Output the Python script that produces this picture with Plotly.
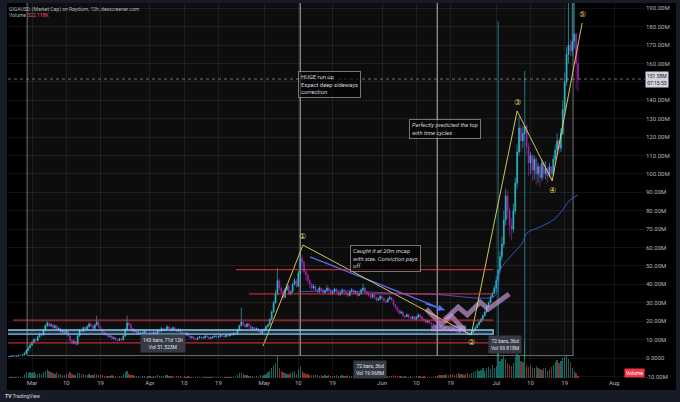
import pandas as pd
import plotly.graph_objects as go

# ---- data (market cap in M, 12h candles from 2024-02-24) ----
close_feb = [0.8, 1.0, 1.2, 0.9, 1.1, 1.4, 1.3, 1.6, 2.5, 4.0, 5.5, 7.0]
high_feb = [1.1, 1.3, 1.5, 1.3, 1.4, 1.7, 1.6, 2.0, 3.2, 4.8, 6.3, 7.8]
low_feb = [0.5, 0.7, 0.8, 0.7, 0.8, 1.0, 1.1, 1.2, 1.5, 2.3, 3.8, 5.2]
vol_feb = [0.3, 0.2, 0.3, 0.2, 0.2, 0.3, 0.3, 0.4, 1.2, 1.6, 1.4, 1.5]

close_mar = [8.5, 10.0, 9.5, 11.5, 13.0, 12.5, 15.0, 17.5, 19.0, 17.5, 18.0, 16.5, 17.5, 15.5, 16.0, 14.0, 15.0, 13.5, 14.5, 12.0,
             9.5, 8.0, 9.0, 7.5, 12.0, 15.0, 14.5, 16.5, 15.5, 17.0, 18.5, 17.5, 16.0, 18.0, 19.5, 17.0, 15.5, 14.0, 13.0, 12.5,
             11.5, 12.0, 10.5, 11.0, 10.0, 9.5, 10.5, 9.8, 12.0, 15.5, 19.0, 18.0, 16.0, 14.5, 15.0, 13.5, 14.0, 13.0, 13.5, 14.5, 13.0, 12.5]
high_mar = [9.2, 10.8, 10.6, 12.2, 13.8, 13.6, 15.8, 18.3, 20.0, 19.2, 18.8, 18.3, 18.2, 17.8, 16.8, 16.4, 15.7, 15.2, 15.3, 14.9,
            12.4, 9.9, 9.8, 9.4, 12.7, 15.6, 15.5, 17.2, 17.0, 17.8, 19.4, 18.9, 17.8, 18.6, 23.0, 19.8, 17.4, 15.8, 14.3, 13.3,
            12.8, 12.6, 12.3, 11.6, 11.3, 10.4, 11.0, 10.9, 12.6, 16.2, 23.0, 19.6, 18.4, 16.5, 15.6, 15.4, 14.7, 14.3, 14.1, 15.2, 15.0, 13.6]
low_mar = [6.5, 8.0, 8.8, 9.0, 11.0, 11.8, 12.0, 14.5, 16.8, 16.9, 16.9, 15.9, 15.8, 14.9, 14.8, 13.2, 13.5, 12.8, 12.9, 11.4,
           8.8, 7.2, 7.5, 6.9, 7.2, 11.5, 14.0, 14.0, 15.0, 15.2, 16.5, 16.8, 15.2, 15.6, 17.5, 16.2, 14.8, 13.2, 12.4, 11.8,
           10.9, 11.2, 9.8, 10.2, 9.2, 8.9, 9.2, 9.0, 9.5, 11.5, 15.0, 17.2, 15.2, 13.8, 13.9, 12.8, 12.7, 12.4, 12.7, 13.2, 12.2, 11.8]
vol_mar = [1.3, 1.5, 1.0, 1.2, 1.4, 1.1, 1.6, 2.0, 2.4, 1.8, 1.6, 1.3, 1.2, 1.5, 1.0, 1.1, 0.8, 0.9, 1.2, 1.0, 1.5, 1.1, 0.8, 0.9,
           1.3, 1.4, 1.0, 1.1, 0.8, 0.9, 1.0, 0.7, 0.8, 1.0, 1.2, 0.9, 0.8, 0.7, 0.6, 0.5, 0.6, 0.5, 0.7, 0.5, 0.6, 0.4, 0.5, 0.6,
           1.0, 1.6, 1.9, 1.2, 0.9, 0.7, 0.6, 0.5, 0.5, 0.4, 0.6, 0.5, 0.4, 0.5]

close_apr = [13.5, 12.5, 14.0, 13.0, 15.0, 14.5, 16.0, 15.0, 15.5, 17.0, 16.0, 15.0, 16.5, 15.5, 14.5, 15.5, 14.0, 13.0, 12.5, 13.5,
             12.0, 11.0, 11.5, 10.5, 10.0, 11.0, 11.5, 10.8, 11.0, 12.0, 11.5, 10.5, 11.0, 11.5, 12.0, 11.2, 11.5, 12.5, 12.0, 11.5,
             12.5, 12.0, 13.0, 12.5, 13.5, 13.0, 15.0, 17.5, 19.5, 18.0, 17.0, 18.5, 17.5, 16.0, 16.5, 15.5, 16.0, 14.5, 13.5, 15.0]
high_apr = [14.2, 14.0, 14.8, 14.3, 15.7, 15.5, 16.9, 16.4, 16.0, 18.0, 17.5, 16.4, 17.2, 16.9, 15.9, 16.2, 15.9, 14.3, 13.4, 14.1,
            13.9, 12.3, 12.1, 11.9, 10.9, 11.6, 12.1, 11.8, 11.6, 12.6, 12.5, 11.8, 11.7, 12.1, 12.7, 12.4, 12.2, 13.1, 13.0, 12.3,
            13.1, 12.8, 13.6, 13.4, 14.1, 13.8, 15.8, 18.3, 27.5, 20.0, 18.6, 19.2, 19.0, 17.9, 17.0, 16.8, 16.7, 16.3, 15.2, 15.7]
low_apr = [12.0, 11.9, 12.2, 12.4, 12.8, 14.0, 14.3, 14.6, 14.7, 15.0, 15.2, 14.5, 14.7, 14.9, 14.0, 14.2, 13.4, 12.4, 12.0, 12.1,
           11.6, 10.5, 10.5, 10.0, 9.5, 9.8, 10.6, 10.2, 10.5, 10.6, 10.8, 10.0, 10.3, 10.9, 11.0, 10.7, 10.9, 11.1, 11.5, 11.0,
           11.2, 11.5, 11.7, 12.0, 12.4, 12.4, 12.7, 14.6, 17.2, 17.3, 16.5, 16.6, 15.8, 15.4, 15.3, 14.9, 14.9, 13.9, 12.5, 13.0]
vol_apr = [0.5, 0.4, 0.5, 0.6, 0.7, 0.5, 0.6, 0.5, 0.8, 0.7, 0.5, 0.6, 0.5, 0.4, 0.6, 0.5, 0.6, 0.4, 0.5, 0.4, 0.5, 0.3, 0.4, 0.3,
           0.4, 0.3, 0.4, 0.3, 0.3, 0.4, 0.3, 0.3, 0.3, 0.4, 0.3, 0.3, 0.4, 0.3, 0.3, 0.2, 0.3, 0.3, 0.4, 0.3, 0.3, 0.4, 0.9, 1.3,
           1.4, 1.0, 0.8, 0.7, 0.6, 0.5, 0.5, 0.4, 0.5, 0.4, 0.7, 0.6]

close_may = [15.5, 17.0, 18.0, 21.0, 25.0, 30.0, 35.0, 42.0, 38.0, 36.0, 33.0, 37.0, 39.0, 35.0, 36.0, 40.0, 42.0, 39.0, 46.0, 54.0,
             52.0, 47.0, 45.0, 42.0, 40.0, 38.0, 39.0, 37.0, 36.0, 38.0, 37.0, 35.5, 36.5, 38.0, 37.0, 35.0, 36.0, 37.5, 36.0, 34.5,
             35.5, 37.0, 36.0, 35.0, 34.0, 36.0, 37.0, 35.5, 36.0, 34.0, 35.0, 37.0, 38.0, 36.0, 35.0, 34.0, 33.0, 34.5, 33.0, 31.5, 32.0, 33.5]
high_may = [16.3, 17.8, 18.8, 21.9, 26.0, 31.0, 37.0, 49.0, 43.0, 39.0, 36.8, 38.0, 40.5, 39.8, 36.8, 41.0, 43.5, 43.0, 47.5, 57.0,
            56.0, 52.8, 48.0, 45.6, 43.0, 40.8, 40.2, 39.5, 37.6, 39.2, 38.6, 37.8, 37.2, 39.5, 38.8, 37.6, 36.8, 38.2, 38.0, 36.5,
            36.0, 37.8, 37.6, 36.4, 35.6, 36.8, 38.0, 37.4, 36.8, 36.4, 35.6, 37.8, 40.5, 38.6, 36.5, 35.6, 34.4, 35.2, 35.0, 33.4, 32.8, 34.2]
low_may = [14.2, 15.0, 16.6, 17.6, 20.5, 24.6, 29.5, 34.0, 37.0, 35.2, 31.5, 32.6, 36.2, 34.0, 34.0, 35.5, 39.5, 38.2, 38.5, 45.5,
           47.5, 45.5, 42.0, 40.5, 37.8, 36.8, 37.3, 35.8, 34.8, 35.3, 35.9, 34.5, 35.0, 35.8, 34.7, 34.0, 34.5, 35.5, 35.0, 33.6,
           33.8, 35.0, 34.5, 34.0, 33.2, 33.4, 35.5, 34.5, 34.8, 33.0, 33.8, 34.4, 36.2, 35.3, 34.2, 33.1, 32.0, 32.3, 32.1, 30.6, 30.9, 31.4]
vol_may = [0.9, 1.2, 1.5, 2.0, 2.6, 3.5, 4.0, 5.9, 2.6, 1.9, 1.6, 1.4, 1.2, 1.1, 1.3, 1.5, 1.8, 1.2, 2.5, 3.2,
           2.0, 1.4, 1.2, 1.0, 0.9, 0.8, 0.8, 0.7, 0.9, 0.6, 0.7, 0.6, 0.8, 0.6, 0.7, 0.5, 0.6, 0.5, 0.7, 0.5,
           0.6, 0.7, 0.5, 0.6, 0.8, 0.6, 0.5, 0.6, 0.5, 0.6, 0.7, 0.5, 0.9, 0.6, 0.5, 0.6, 0.5, 0.6, 0.4, 0.5, 0.5, 0.4]

close_jun = [32.5, 31.0, 30.5, 32.0, 33.0, 31.5, 29.0, 27.5, 26.0, 24.5, 25.0, 23.0, 22.5, 23.5, 22.0, 21.5, 22.5, 21.0, 22.0, 23.5,
             22.5, 21.0, 20.5, 19.5, 20.0, 19.0, 18.5, 18.0, 17.0, 18.5, 17.5, 16.5, 16.0, 17.0, 16.5, 15.5, 15.0, 16.0, 15.5, 14.5,
             14.0, 15.5, 15.0, 14.5, 14.0, 13.5, 13.0, 14.0, 15.0, 16.5, 18.0, 19.5, 21.0, 23.0, 25.0, 28.0, 30.0, 33.0, 35.0, 38.0]
high_jun = [33.8, 32.8, 31.4, 32.8, 33.8, 33.2, 31.8, 29.3, 27.8, 26.2, 25.9, 25.2, 23.3, 24.3, 23.8, 22.4, 22.9, 22.7, 22.8, 24.2,
            24.0, 22.9, 21.7, 20.9, 20.6, 20.3, 19.3, 18.9, 18.3, 19.2, 18.9, 17.7, 16.9, 17.6, 17.2, 16.9, 15.9, 16.6, 16.3, 15.9,
            14.9, 16.1, 15.9, 15.3, 14.9, 14.3, 13.9, 14.6, 15.6, 17.2, 18.6, 20.3, 21.8, 23.8, 25.9, 28.9, 30.8, 34.0, 36.0, 39.5]
low_jun = [31.4, 30.2, 29.6, 30.1, 31.5, 30.8, 28.2, 26.6, 24.9, 23.6, 23.9, 22.3, 21.6, 22.1, 21.3, 20.7, 20.9, 20.4, 20.6, 21.6,
           20.8, 20.3, 19.7, 18.8, 18.9, 18.3, 17.6, 17.2, 16.2, 16.6, 16.3, 15.8, 15.3, 15.6, 15.2, 14.8, 14.3, 14.6, 14.2, 13.9,
           13.4, 13.7, 14.2, 13.9, 13.2, 12.8, 12.3, 12.7, 13.8, 14.8, 16.2, 17.7, 19.2, 20.8, 22.6, 24.5, 27.2, 29.8, 32.5, 34.8]
vol_jun = [0.4, 0.5, 0.4, 0.5, 0.5, 0.6, 0.7, 0.6, 0.6, 0.5, 0.6, 0.4, 0.5, 0.4, 0.4, 0.5, 0.4, 0.3, 0.5, 0.6, 0.5, 0.4, 0.5, 0.4,
           0.4, 0.3, 0.4, 0.3, 0.5, 0.6, 0.8, 0.7, 0.9, 0.8, 1.0, 0.9, 1.2, 1.0, 0.9, 1.1, 1.3, 1.0, 1.2, 0.9, 1.1, 1.4, 1.0, 1.3,
           1.6, 2.0, 2.4, 1.8, 2.2, 2.6, 2.0, 2.8, 3.0, 2.4, 3.4, 2.6]

close_jul = [42.0, 48.0, 55.0, 62.0, 75.0, 88.0, 80.0, 72.0, 70.0, 80.0, 95.0, 112.0, 125.0, 118.0, 122.0, 126.0, 115.0, 106.0, 110.0, 102.0,
             108.0, 100.0, 104.0, 98.0, 106.0, 100.0, 103.0, 99.0, 104.0, 100.0, 108.0, 113.0, 118.0, 114.0, 122.0, 135.0, 150.0, 165.0, 170.0, 167.0,
             172.0, 176.0, 160.0, 151.58]
high_jul = [44.5, 183.0, 58.0, 66.0, 80.0, 92.0, 91.0, 82.0, 76.0, 84.0, 98.0, 116.0, 131.0, 127.0, 126.0, 156.0, 127.0, 117.0, 112.0, 111.0,
            110.0, 109.0, 106.0, 105.0, 108.0, 107.0, 107.0, 104.0, 106.0, 104.0, 110.0, 116.0, 122.0, 119.0, 125.0, 140.0, 155.0, 169.0, 200.0, 173.0,
            198.0, 195.0, 177.0, 171.0]
low_jul = [36.0, 0.5, 46.0, 53.0, 60.0, 72.0, 76.0, 66.0, 64.0, 68.0, 78.0, 92.0, 110.0, 112.0, 114.0, 0.3, 110.0, 99.0, 100.0, 96.0,
           97.0, 94.0, 95.0, 93.0, 96.0, 97.0, 97.0, 95.0, 98.0, 97.0, 99.0, 106.0, 110.0, 111.0, 112.0, 121.0, 132.0, 148.0, 160.0, 164.0,
           164.0, 168.0, 146.0, 145.0]
vol_jul = [3.2, 7.2, 4.5, 5.0, 6.0, 5.2, 4.0, 3.5, 3.2, 4.0, 5.5, 6.5, 6.0, 4.5, 4.2, 9.8, 3.6, 3.0, 3.2, 2.6,
           2.6, 3.2, 2.8, 2.4, 2.2, 2.6, 2.8, 2.0, 2.4, 3.0, 3.6, 4.2, 4.8, 4.0, 4.6, 5.4, 5.6, 6.2, 5.0, 4.4,
           2.6, 2.0, 1.4, 0.52]

# moving average line
ma_x = ["2024-05-10", "2024-05-20", "2024-06-01", "2024-06-15", "2024-06-30 12:00", "2024-07-01 12:00", "2024-07-02",
        "2024-07-04 16:00", "2024-07-07 20:00", "2024-07-09 02:00", "2024-07-12 12:00", "2024-07-16", "2024-07-17 20:00",
        "2024-07-20 10:00", "2024-07-22 12:00"]
ma_y = [36.0, 36.5, 35.5, 34.5, 33.5, 38.0, 47.8, 54.9, 62.5, 67.9, 71.2, 75.0, 78.8, 85.9, 88.6]

# elliott wave drawing
wave_x = ["2024-04-30 17:00", "2024-05-11 05:00", "2024-06-24 10:00", "2024-07-06 12:00", "2024-07-15 17:00", "2024-07-23 14:00"]
wave_y = [6.5, 61.4, 12.5, 134.2, 96.2, 182.0]
wave_labels = ["\u2460", "\u2461", "\u2462", "\u2463", "\u2464"]
wave_label_x = ["2024-05-11 05:00", "2024-06-24 10:00", "2024-07-06 12:00", "2024-07-15 17:00", "2024-07-23 19:00"]
wave_label_y = [65.8, 8.2, 138.6, 90.8, 186.4]

trend_x = ["2024-05-13 02:00", "2024-06-17 10:00"]
trend_y = [54.9, 26.1]

zig1_x = ["2024-06-17 10:00", "2024-06-21", "2024-06-23 10:00", "2024-06-26 19:00", "2024-06-28 22:00", "2024-07-04 10:00"]
zig1_y = [20.7, 27.7, 23.4, 30.4, 26.6, 34.8]
zig2_x = ["2024-06-12 14:00", "2024-06-16 14:00", "2024-06-19 05:00", "2024-06-22 14:00"]
zig2_y = [26.6, 18.5, 22.8, 15.2]

levels = [48.0, 34.8, 20.6, 8.2]
level_start = ["2024-04-23 14:00", "2024-04-27", "2024-02-25", "2024-02-23"]
level_end = "2024-06-30 05:00"

ranges = [("2024-02-28 17:00", "2024-05-10 12:00"), ("2024-05-10 12:00", "2024-06-15 12:00"), ("2024-06-15 12:00", "2024-07-21 05:00")]
range_labels = ["143 bars, 71d 12h<br>Vol 51.523M", "72 bars, 36d<br>Vol 19.968M", "72 bars, 36d<br>Vol 99.818M"]
range_label_x = ["2024-04-04 10:00", "2024-05-28 22:00", "2024-07-03 07:00"]
range_label_y = [7.9, -6.3, 7.6]

tick_dates = ["2024-03-01", "2024-03-10", "2024-03-19", "2024-04-01", "2024-04-10", "2024-04-19", "2024-05-01", "2024-05-10",
              "2024-05-19", "2024-06-01", "2024-06-10", "2024-06-19", "2024-07-01", "2024-07-10", "2024-07-19", "2024-08-01"]
tick_text = ["Mar", "10", "19", "Apr", "10", "19", "May", "10", "19", "Jun", "10", "19", "Jul", "10", "19", "Aug"]
price_ticks = list(range(-10, 200, 10))
# 150 is hidden behind the last-price label
price_text = ["0.0000" if v == 0 else ("" if v == 150 else f"{v:.2f}M") for v in price_ticks]

# ---- build ----
close = close_feb + close_mar + close_apr + close_may + close_jun + close_jul
high = high_feb + high_mar + high_apr + high_may + high_jun + high_jul
low = low_feb + low_mar + low_apr + low_may + low_jun + low_jul
vol = vol_feb + vol_mar + vol_apr + vol_may + vol_jun + vol_jul
opn = [0.6] + close[:-1]
high = [max(h, o, c) for h, o, c in zip(high, opn, close)]
low = [min(l, o, c) for l, o, c in zip(low, opn, close)]
dates = pd.date_range("2024-02-24", periods=len(close), freq="12h")

UP = "#2ec4d6"
DOWN = "#a12ab4"
FONT = "Roboto"
AXC = "#b2b5be"
GRID = "rgba(255,255,255,0.07)"

fig = go.Figure()
vcol = ["rgba(38,166,154,0.6)" if c >= o else "rgba(239,83,80,0.55)" for o, c in zip(opn, close)]
fig.add_trace(go.Bar(x=dates, y=vol, marker=dict(color=vcol, line=dict(width=0)), width=12 * 3600 * 1000 * 0.7,
                     yaxis="y2", hoverinfo="skip"))
fig.add_trace(go.Candlestick(x=dates, open=opn, high=high, low=low, close=close, whiskerwidth=0,
                             increasing=dict(line=dict(color=UP, width=0.6), fillcolor=UP),
                             decreasing=dict(line=dict(color=DOWN, width=0.6), fillcolor=DOWN)))
fig.add_trace(go.Scatter(x=ma_x, y=ma_y, mode="lines", line=dict(color="rgba(50,100,230,0.85)", width=1, shape="spline")))
fig.add_trace(go.Scatter(x=zig2_x, y=zig2_y, mode="lines", line=dict(color="rgba(206,160,225,0.65)", width=5)))
fig.add_trace(go.Scatter(x=zig1_x, y=zig1_y, mode="lines", line=dict(color="rgba(206,160,225,0.65)", width=5)))
fig.add_trace(go.Scatter(x=trend_x, y=trend_y, mode="lines", line=dict(color="#4c6ef5", width=1.3)))
fig.add_trace(go.Scatter(x=wave_x, y=wave_y, mode="lines", line=dict(color="rgba(232,214,96,0.9)", width=1)))

shapes = []
# date range boxes
for x0, x1 in ranges:
    shapes.append(dict(type="rect", x0=x0, x1=x1, y0=1.3, y1=215, xref="x", yref="y", layer="below",
                       fillcolor="rgba(255,255,255,0.05)", line=dict(color="rgba(200,200,200,0.55)", width=1)))
# support / resistance levels
for lv, st in zip(levels, level_start):
    shapes.append(dict(type="line", x0=st, x1=level_end, y0=lv, y1=lv, xref="x", yref="y", layer="above",
                       line=dict(color="rgba(242,54,69,0.75)", width=1.2)))
# blue band
shapes.append(dict(type="rect", x0="2024-02-22", x1=level_end, y0=13.0, y1=15.2, xref="x", yref="y", layer="above",
                   fillcolor="rgba(120,190,255,0.22)", line=dict(color="#86c9ee", width=1.3)))
# lavender band
shapes.append(dict(type="rect", x0="2024-06-13 22:00", x1="2024-06-23 02:00", y0=14.6, y1=17.6, xref="x", yref="y",
                   layer="above", fillcolor="rgba(206,160,225,0.55)", line=dict(width=0)))
# current price line
shapes.append(dict(type="line", x0=0, x1=1, y0=151.58, y1=151.58, xref="paper", yref="y", layer="above",
                   line=dict(color="rgba(180,180,180,0.6)", width=1, dash="dot")))
# dark frame around the chart
NAVY = "#171b26"
for x0, x1, y0, y1 in [(-0.013, 1.056, -0.07, -0.032), (-0.013, -0.0016, -0.07, 1.01),
                       (-0.013, 1.056, 1.0, 1.01), (1.0487, 1.056, -0.07, 1.01)]:
    shapes.append(dict(type="rect", x0=x0, x1=x1, y0=y0, y1=y1, xref="paper", yref="paper", layer="below",
                       fillcolor=NAVY, line=dict(width=0)))

ann = []
for t, x, y in zip(wave_labels, wave_label_x, wave_label_y):
    ann.append(dict(x=x, y=y, text=t, showarrow=False, font=dict(family="DejaVu Sans", size=8, color="#e8d660")))
for t, x, y in zip(range_labels, range_label_x, range_label_y):
    ann.append(dict(x=x, y=y, text=t, showarrow=False, align="center", bgcolor="#363a45", borderpad=2,
                    font=dict(family=FONT, size=5, color="#e0e3eb")))
box = dict(showarrow=False, align="left", xanchor="left", yanchor="top", bgcolor="rgba(0,0,0,0.6)",
           bordercolor="rgba(190,190,190,0.6)", borderwidth=1, borderpad=2)
ann.append(dict(x="2024-05-09 22:00", y=156.0, text="HUGE run up<br>Expect deep sideways<br>correction",
                font=dict(family=FONT, size=5.8, color="#d1d4dc"), **box))
ann.append(dict(x="2024-06-08 05:00", y=129.9, text="<i>Perfectly predicted the top<br>with time cycles</i>",
                font=dict(family=FONT, size=5.8, color="#d1d4dc"), **box))
ann.append(dict(x="2024-05-23 14:00", y=61.4, text="<i>Caught it at 20m mcap<br>with size. Conviction pays<br>off</i>",
                font=dict(family=FONT, size=5.8, color="#d1d4dc"), **box))
# arrow head on blue trend line
ann.append(dict(x=trend_x[1], y=trend_y[1], ax="2024-06-12", ay=29.8, axref="x", ayref="y", text="",
                showarrow=True, arrowhead=2, arrowsize=1, arrowwidth=1.3, arrowcolor="#4c6ef5"))
# header texts
ann.append(dict(x=-0.0016, y=0.984, xref="paper", yref="paper", xanchor="left", yanchor="middle", showarrow=False,
                text="GIGAUSD, (Market Cap) on Raydium, 12h, dexscreener.com", font=dict(family=FONT, size=5, color=AXC)))
ann.append(dict(x=-0.0016, y=0.968, xref="paper", yref="paper", xanchor="left", yanchor="middle", showarrow=False,
                text="Volume <span style='color:#f7525f'>522.118K</span>", font=dict(family=FONT, size=5, color=AXC)))
# price axis labels
ann.append(dict(x=1.0, y=151.58, xref="paper", yref="y", xanchor="left", yanchor="middle", showarrow=False,
                text="151.58M<br>07:15:53", bgcolor="#d1d4dc", borderpad=1, font=dict(family=FONT, size=5, color="#131722")))
ann.append(dict(x=1.0, y=-8.4, xref="paper", yref="y", xanchor="right", yanchor="middle", showarrow=False,
                text="Volume", bgcolor="#f23645", borderpad=1, font=dict(family=FONT, size=5, color="white")))
ann.append(dict(x=-0.008, y=-0.047, xref="paper", yref="paper", xanchor="left", yanchor="middle", showarrow=False,
                text="<b>TV</b> TradingView", font=dict(family=FONT, size=5, color="#d1d4dc")))

fig.update_layout(
    width=680, height=402,
    margin=dict(l=8, r=35, t=3, b=24),
    paper_bgcolor="#000000", plot_bgcolor="rgba(0,0,0,0)",
    showlegend=False, bargap=0,
    font=dict(family=FONT, size=6, color=AXC),
    shapes=shapes, annotations=ann,
    xaxis=dict(type="date", range=["2024-02-23 16:30", "2024-08-09 02:30"], rangeslider=dict(visible=False),
               tickvals=tick_dates, ticktext=tick_text, showgrid=True, gridcolor=GRID, gridwidth=1,
               zeroline=False, showline=False, ticks="", automargin=False,
               tickfont=dict(family=FONT, size=6, color=AXC)),
    yaxis=dict(side="right", range=[-10.87, 192.9], tickvals=price_ticks, ticktext=price_text, showgrid=True,
               gridcolor=GRID, zeroline=False, showline=False, ticks="", automargin=False,
               tickfont=dict(family=FONT, size=6, color=AXC)),
    yaxis2=dict(overlaying="y", range=[0, 100], visible=False, showgrid=False),
)

# page body has a default 8px margin; drop it so the chart sits at the window corner
fig.write_html("out.html", config={"displayModeBar": False},
               post_script="document.body.style.margin='0';document.body.style.background='#000';")
